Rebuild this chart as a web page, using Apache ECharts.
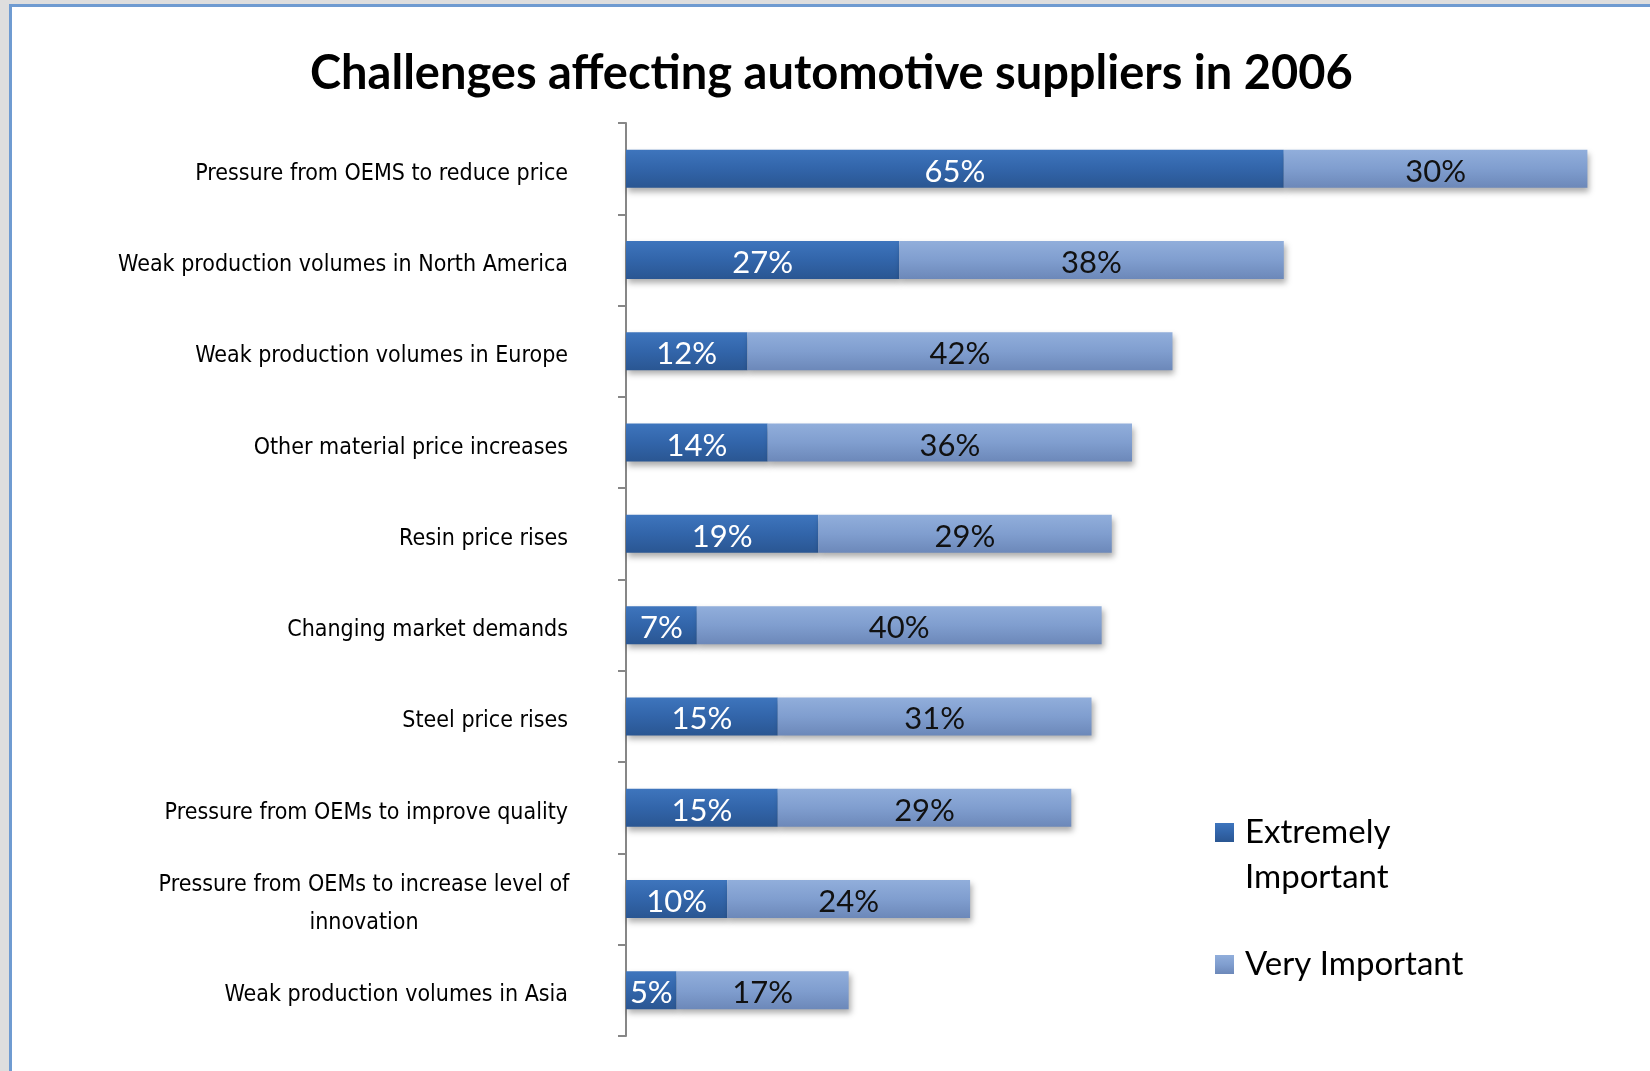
<!DOCTYPE html>
<html>
<head>
<meta charset="utf-8">
<title>Challenges affecting automotive suppliers in 2006</title>
<script src="https://cdn.jsdelivr.net/npm/echarts@6/dist/echarts.min.js"></script>
<style>
  html, body { margin: 0; padding: 0; width: 1650px; height: 1071px; overflow: hidden; background: #dedede; }
  #frame { position: absolute; left: 9px; top: 4px; width: 1700px; height: 1120px; background: #ffffff; border: 3.5px solid #6f9bd1; }
  #chart { position: absolute; left: 0; top: 0; width: 1650px; height: 1071px; }
</style>
</head>
<body>
<div id="frame"></div>
<div id="chart"></div>
<script>
// Survey categories, top to bottom
const categories = [
  'Pressure from OEMS to reduce price',
  'Weak production volumes in North America',
  'Weak production volumes in Europe',
  'Other material price increases',
  'Resin price rises',
  'Changing market demands',
  'Steel price rises',
  'Pressure from OEMs to improve quality',
  'Pressure from OEMs to increase level of innovation',
  'Weak production volumes in Asia'
];
// Share of suppliers rating each challenge (%)
const extremelyImportant = [65, 27, 12, 14, 19, 7, 15, 15, 10, 5];
const veryImportant = [30, 38, 42, 36, 29, 40, 31, 29, 24, 17];
const seriesNames = ['Extremely Important', 'Very Important'];

const labelFont = "'DejaVu Sans Condensed', 'Liberation Sans Narrow', Lato, sans-serif";
const mainFont = "Lato, 'Open Sans', sans-serif";

const darkFill = new echarts.graphic.LinearGradient(0, 0, 0, 1, [
  { offset: 0, color: '#3e75bd' },
  { offset: 0.5, color: '#3265aa' },
  { offset: 1, color: '#2a5692' }
]);
const lightFill = new echarts.graphic.LinearGradient(0, 0, 0, 1, [
  { offset: 0, color: '#91aedb' },
  { offset: 0.5, color: '#809ecf' },
  { offset: 1, color: '#6c88b9' }
]);
const barShadow = {
  shadowColor: 'rgba(0, 0, 0, 0.32)',
  shadowBlur: 6,
  shadowOffsetX: 2,
  shadowOffsetY: 4
};

const chart = echarts.init(document.getElementById('chart'), null, { renderer: 'canvas' });

chart.setOption({
  animation: false,
  backgroundColor: 'transparent',
  title: {
    text: 'Challenges affecting automotive suppliers in 2006',
    left: 310,
    top: 50,
    padding: 0,
    textStyle: {
      fontFamily: mainFont,
      fontWeight: 'bold',
      fontSize: 47,
      color: '#000000'
    }
  },
  legend: [
    {
      data: [seriesNames[0]],
      orient: 'vertical',
      left: 1215,
      top: 765,
      padding: 0,
      itemWidth: 19,
      itemHeight: 19,
      icon: 'rect',
      // blank first line keeps the icon level with "Extremely"
      formatter: function () { return ' \nExtremely\nImportant'; },
      textStyle: {
        fontFamily: mainFont,
        fontSize: 33,
        lineHeight: 45,
        color: '#000000',
        padding: [0, 0, 0, 6]
      }
    },
    {
      data: [seriesNames[1]],
      orient: 'vertical',
      left: 1215,
      top: 942,
      padding: 0,
      itemWidth: 19,
      itemHeight: 19,
      icon: 'rect',
      textStyle: {
        fontFamily: mainFont,
        fontSize: 33,
        lineHeight: 45,
        color: '#000000',
        padding: [0, 0, 0, 6]
      }
    }
  ],
  grid: {
    left: 626,
    right: 12,
    top: 123,
    bottom: 35,
    containLabel: false
  },
  xAxis: {
    type: 'value',
    min: 0,
    max: 100,
    show: false
  },
  yAxis: {
    type: 'category',
    inverse: true,
    data: categories,
    axisLine: { show: true, lineStyle: { color: '#878787', width: 2 } },
    axisTick: { show: true, length: 8, lineStyle: { color: '#878787', width: 2 } },
    axisLabel: {
      margin: 58,
      fontFamily: labelFont,
      fontSize: 23,
      color: '#000000',
      align: 'right',
      padding: [10, 0, 0, 0],
      formatter: function (value) {
        if (value === 'Pressure from OEMs to increase level of innovation') {
          return '{c|Pressure from OEMs to increase level of}\n{c|innovation}';
        }
        return value;
      },
      rich: {
        c: {
          fontFamily: labelFont,
          fontSize: 23,
          color: '#000000',
          width: 408,
          align: 'center',
          lineHeight: 38
        }
      }
    }
  },
  series: [
    {
      name: seriesNames[0],
      type: 'bar',
      stack: 'total',
      barWidth: 38,
      data: extremelyImportant,
      itemStyle: Object.assign({ color: darkFill }, barShadow),
      label: {
        show: true,
        position: 'inside',
        offset: [0, 3],
        formatter: '{c}%',
        fontFamily: mainFont,
        fontSize: 31,
        color: '#ffffff'
      }
    },
    {
      name: seriesNames[1],
      type: 'bar',
      stack: 'total',
      barWidth: 38,
      data: veryImportant,
      itemStyle: Object.assign({ color: lightFill }, barShadow),
      label: {
        show: true,
        position: 'inside',
        offset: [0, 3],
        formatter: '{c}%',
        fontFamily: mainFont,
        fontSize: 31,
        color: '#111111'
      }
    }
  ]
});
</script>
</body>
</html>
